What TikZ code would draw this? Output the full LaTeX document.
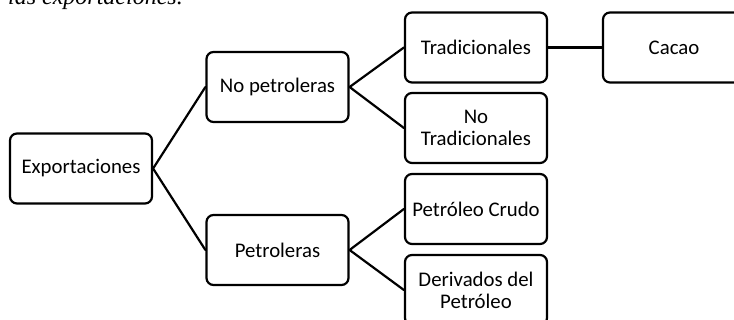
\documentclass[tikz,border=0pt]{standalone}
\usepackage{fontspec}
\setmainfont{Carlito}
\newfontfamily\captionfont{Liberation Serif}
\usetikzlibrary{positioning}

\tikzset{
  caja/.style={draw, line width=2.2pt, rounded corners=7pt, minimum width=142pt,
    minimum height=70pt, inner sep=2pt, align=center,
    font=\fontsize{20.8}{22}\selectfont},
  rama/.style={line width=2.2pt}
}

\begin{document}
\begin{tikzpicture}[x=1pt,y=-1pt,line cap=round,line join=round]
  \useasboundingbox (0,0) rectangle (734,320);
  % pie de figura cortado arriba
  \node[anchor=base east, inner sep=0pt, font=\captionfont\itshape\fontsize{24}{26}\selectfont] (pie) at (183,4.5) {las exportaciones.};
  % cajas
  \node[caja] (expo) at (81,168.5) {Exportaciones};
  \node[caja] (nopet) at (277.5,87) {No petroleras};
  \node[caja] (pet) at (277.5,250) {Petroleras};
  \node[caja] (trad) at (476,47.5) {Tradicionales};
  \node[caja] (notrad) at (476,128) {No\\Tradicionales};
  \node[caja] (cacao) at (674,47.5) {Cacao};
  \node[caja] (crudo) at (476,209) {Petróleo Crudo};
  \node[caja] (deriv) at (476,290) {Derivados del\\Petróleo};
  % ramas
  \draw[rama] (expo.east) -- (nopet.west);
  \draw[rama] (expo.east) -- (pet.west);
  \draw[rama] (nopet.east) -- (trad.west);
  \draw[rama] (nopet.east) -- (notrad.west);
  \draw[rama] (trad.east) -- (cacao.west);
  \draw[rama] (pet.east) -- (crudo.west);
  \draw[rama] (pet.east) -- (deriv.west);
\end{tikzpicture}
\end{document}
